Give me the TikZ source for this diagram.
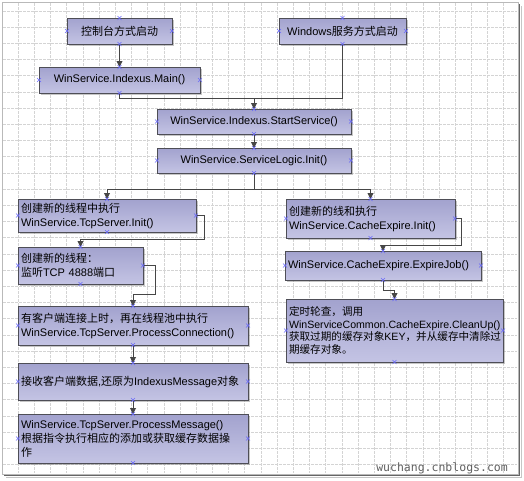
\documentclass[tikz,border=0pt]{standalone}
\usepackage{fontspec}
\setmainfont{Liberation Sans}
\newfontfamily\zhfont{Noto Sans CJK SC}
\newfontfamily\wmfont{DejaVu Sans Mono}
\newcommand{\zh}[1]{{\zhfont #1}}
\usepackage{tikz}
\usetikzlibrary{arrows.meta,calc,shadows}
\definecolor{boxtop}{RGB}{162,162,206}
\definecolor{boxbot}{RGB}{196,196,228}
\definecolor{boxline}{RGB}{78,78,86}
\definecolor{connline}{RGB}{70,70,70}
\definecolor{gridline}{RGB}{212,212,212}
\definecolor{markblue}{RGB}{105,105,250}

\begin{document}
\begin{tikzpicture}[x=1pt, y=-1pt,
    every node/.style={font=\fontsize{11}{14}\selectfont},
    box/.style={draw=boxline, line width=0.8pt, top color=boxtop, bottom color=boxbot,
        inner xsep=3pt, inner ysep=0pt, outer sep=0pt,
        drop shadow={shadow xshift=1.5pt, shadow yshift=-1.5pt, opacity=0.45}},
    cbox/.style={box, align=center},
    lbox/.style={box, align=left},
    conn/.style={draw=connline, line width=0.9pt},
    connarr/.style={conn, -{Triangle[length=6pt,width=6pt]}},
    gridln/.style={draw=gridline, line width=0.8pt, dash pattern=on 2.5pt off 1.5pt},
    xcross/.style={draw=markblue, line width=0.6pt}]
    \useasboundingbox (0,0) rectangle (524,480);

    % Background grid and frame
    \foreach \i in {1,...,31}
        \draw[gridln] ({2+16.19*\i},3) -- ({2+16.19*\i},473);
    \foreach \j in {0,...,28}
        \draw[gridln] (3,{11+16.2*\j}) -- (517,{11+16.2*\j});
    \draw[gray!55] (2,2) rectangle (518,474);
    \draw[gray!80!black, line width=1.5pt] (519.5,4) -- (519.5,475.5) -- (4,475.5);
    \draw[gray!45, line width=1pt] (521.5,6) -- (521.5,477.5) -- (6,477.5);

    % Start modes
    \node[cbox, minimum width=105pt, minimum height=26pt] (console) at (119.5,31) {\zh{控制台方式启动}};
    \node[cbox, minimum width=127pt, minimum height=26pt] (winsvc) at (342.5,31) {Windows\zh{服务方式启动}};

    % Service entry
    \node[cbox, minimum width=161pt, minimum height=26pt] (main) at (119.5,80) {WinService.Indexus.Main()};
    \node[cbox, minimum width=194pt, minimum height=25pt] (start) at (254,121.5) {WinService.Indexus.StartService()};
    \node[cbox, minimum width=194pt, minimum height=25pt] (logic) at (254,160.5) {WinService.ServiceLogic.Init()};

    % TCP server branch
    \node[lbox, text width=172pt, minimum height=33pt] (tcpinit) at (107,215.5)
        {\zh{创建新的线程中执行}\\WinService.TcpServer.Init()};
    \node[lbox, text width=119pt, minimum height=37pt] (listen) at (80.5,265.5)
        {\zh{创建新的线程：}\\\zh{监听}TCP 4888\zh{端口}};
    \node[lbox, text width=224pt, minimum height=39pt] (accept) at (133,325.5)
        {\zh{有客户端连接上时，再在线程池中执行}\\WinService.TcpServer.ProcessConnection()};
    \node[lbox, text width=224pt, minimum height=37pt] (receive) at (133,381.5)
        {\zh{接收客户端数据}{,}\zh{还原为}IndexusMessage\zh{对象}};
    \node[lbox, text width=224pt, minimum height=49pt] (process) at (133,438.5)
        {WinService.TcpServer.ProcessMessage()\\\zh{根据指令执行相应的添加或获取缓存数据操}\\\zh{作}};

    % Cache expire branch
    \node[lbox, text width=163pt, minimum height=39pt] (cacheinit) at (370.5,218.5)
        {\zh{创建新的线和执行}\\WinService.CacheExpire.Init()};
    \node[lbox, text width=190pt, minimum height=29pt] (expire) at (383,265.5)
        {WinService.CacheExpire.ExpireJob()};
    \node[lbox, text width=211pt, minimum height=63pt, font=\fontsize{10.6}{12.8}\selectfont] (cleanup) at (394.5,330.5)
        {\zh{定时轮查，调用}\\WinServiceCommon.CacheExpire.CleanUp()\\\zh{获取过期的缓存对象}KEY\zh{，并从缓存中清除过}\\\zh{期缓存对象。}};

    % Watermark
    \node[font=\wmfont\fontsize{11.5}{12}\selectfont, text=gray!75!black, anchor=east, inner sep=0pt] (wmark) at (508,468) {wuchang.cnblogs.com};

    % Connectors
    \coordinate (j1) at ($(main.south)+(0,5)$);
    \draw[connarr] (console) -- (main);
    \draw[connarr] (main.south) -- (j1) -| (start.north);
    \draw[conn] (winsvc.south) |- (j1 -| start.north);
    \draw[connarr] (start) -- (logic);
    \draw[connarr] (logic.south) -- ++(0,16) -| (tcpinit.north);
    \draw[connarr] (logic.south) -- ++(0,16) -| (cacheinit.north);
    \draw[connarr] (tcpinit.east) -- ++(8,0) |- ($(listen.north)+(0,-8)$) -- (listen.north);
    \draw[connarr] (listen.east) -- ++(12,0) |- ($(accept.north)+(0,-12)$) -- (accept.north);
    \draw[connarr] (accept) -- (receive);
    \draw[connarr] (receive) -- (process);
    \draw[connarr] (cacheinit.east) -- ++(6,0) |- ($(expire.north)+(0,-6)$) -- (expire.north);
    \draw[connarr] (expire.south) -- ++(0,10) -| (cleanup.north);

    % Connection point markers
    \foreach \n in {console,winsvc,main,start,logic,tcpinit,listen,accept,receive,process,cacheinit,expire,cleanup}
        \foreach \a in {north,south,east,west}
            \draw[xcross] ($(\n.\a)+(-2,-2)$) -- ++(4,4) ($(\n.\a)+(-2,2)$) -- ++(4,-4);
\end{tikzpicture}
\end{document}
